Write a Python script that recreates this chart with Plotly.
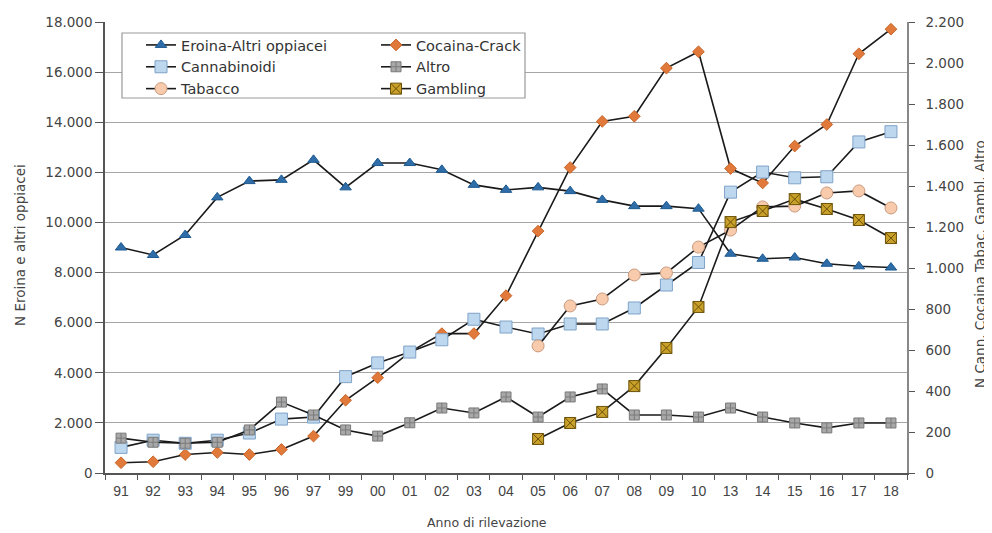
import plotly.graph_objects as go

years = ["91","92","93","94","95","96","97","99","00","01","02","03","04",
         "05","06","07","08","09","10","13","14","15","16","17","18"]

eroina = [9000, 8700, 9500, 11000, 11650, 11700, 12500, 11400, 12370, 12370, 12100, 11500, 11300,
          11400, 11250, 10900, 10650, 10650, 10550, 8750, 8550, 8600, 8350, 8250, 8200]
cocaina = [50, 55, 90, 100, 90, 115, 180, 355, 465, 590, 680, 680, 865,
           1180, 1490, 1715, 1740, 1975, 2055, 1485, 1415, 1595, 1700, 2045, 2165]
cannabinoidi = [125, 160, 145, 160, 195, 263, 273, 470, 537, 590, 650, 750, 712,
                678, 727, 727, 805, 917, 1027, 1370, 1468, 1440, 1445, 1615, 1665]
altro = [170, 150, 145, 150, 210, 346, 283, 210, 180, 245, 317, 293, 371,
         273, 371, 410, 283, 283, 273, 317, 273, 244, 220, 244, 244]
tabacco_years = ["05","06","07","08","09","10","13","14","15","16","17","18"]
tabacco = [620, 815, 849, 966, 976, 1102, 1185, 1298, 1302, 1366, 1376, 1293]
gambling = [166, 244, 298, 424, 610, 810, 1224, 1278, 1336, 1288, 1234, 1146]

left_ticks = list(range(0, 18001, 2000))
right_ticks = list(range(0, 2201, 200))

# page body has an 8px margin: figure is 984x525 so it fills the 992x533 window
W, H = 984, 525
ML, MR, MT, MB = 97, 85, 14, 60
PW, PH = W - ML - MR, H - MT - MB

def px_x(sx):  # screen x -> paper x
    return (sx - 8 - ML) / PW

def px_y(sy):  # screen y -> paper y
    return (H - MB - (sy - 8)) / PH

LINE = dict(color="#1a1a1a", width=1.6)
SANS = "DejaVu Sans, Verdana, sans-serif"
fig = go.Figure()

fig.add_trace(go.Scatter(x=years, y=eroina, name="Eroina-Altri oppiacei", mode="lines+markers",
                         line=LINE, legend="legend",
                         marker=dict(symbol="triangle-up", size=10, color="#2E6DA8",
                                     line=dict(color="#1F5A90", width=1))))
fig.add_trace(go.Scatter(x=years, y=cocaina, name="Cocaina-Crack", mode="lines+markers",
                         line=LINE, yaxis="y2", legend="legend2",
                         marker=dict(symbol="diamond", size=9, color="#E0793A",
                                     line=dict(color="#C8652A", width=1))))
fig.add_trace(go.Scatter(x=years, y=cannabinoidi, name="Cannabinoidi", mode="lines+markers",
                         line=LINE, yaxis="y2", legend="legend",
                         marker=dict(symbol="square", size=12, color="#BDD7EE",
                                     line=dict(color="#7FA3C8", width=1))))
fig.add_trace(go.Scatter(x=years, y=altro, name="Altro", mode="lines+markers",
                         line=LINE, yaxis="y2", legend="legend2",
                         marker=dict(symbol="square-cross", size=10, color="#A8A8A8",
                                     line=dict(color="#7A7A7A", width=1))))
fig.add_trace(go.Scatter(x=tabacco_years, y=tabacco, name="Tabacco", mode="lines+markers",
                         line=LINE, yaxis="y2", legend="legend",
                         marker=dict(symbol="circle", size=12, color="#F8CBAD",
                                     line=dict(color="#C99A7E", width=1))))
fig.add_trace(go.Scatter(x=tabacco_years, y=gambling, name="Gambling", mode="lines+markers",
                         line=LINE, yaxis="y2", legend="legend2",
                         marker=dict(symbol="square-x", size=11, color="#C9A02A",
                                     line=dict(color="#6B5208", width=1))))

YTICKFONT = dict(family=SANS, size=13.5, color="#444444")
XTICKFONT = dict(family="Liberation Sans Narrow, Liberation Sans, Arial, sans-serif", size=14, color="#444444")
TITLEFONT = dict(family=SANS, size=12.5, color="#444444")
YTITLEFONT = dict(family=SANS, size=13.5, color="#444444")
legfont = dict(family=SANS, size=14.5, color="#333333")

fig.update_layout(
    width=W, height=H,
    margin=dict(l=ML, r=MR, t=MT, b=MB, autoexpand=False),
    paper_bgcolor="white", plot_bgcolor="white",
    separators=",.",
    showlegend=True,
    xaxis=dict(type="category", categoryorder="array", categoryarray=years,
               tickson="boundaries", ticks="outside", ticklen=5, tickcolor="#555555",
               showline=True, linecolor="#555555", linewidth=1.5, mirror=False,
               showgrid=False, tickfont=XTICKFONT, range=[-0.5, len(years) - 0.5],
               ticklabelstandoff=4),
    yaxis=dict(range=[0, 18000], tickvals=left_ticks, tickformat=",d",
               showgrid=True, gridcolor="#A6A6A6", gridwidth=1.3,
               showline=True, linecolor="#555555", linewidth=1.5,
               ticks="outside", ticklen=8, tickcolor="#555555",
               tickfont=YTICKFONT, zeroline=False, automargin=False),
    yaxis2=dict(range=[0, 2200], tickvals=right_ticks, tickformat=",d",
                overlaying="y", side="right", showgrid=False,
                showline=True, linecolor="#888888", linewidth=1.5,
                ticks="outside", ticklen=6, tickcolor="#555555",
                tickfont=YTICKFONT, zeroline=False, automargin=False,
                ticklabelstandoff=8),
    legend=dict(x=px_x(141), y=px_y(29), xanchor="left", yanchor="top", bgcolor="rgba(0,0,0,0)",
                font=legfont, tracegroupgap=0, itemwidth=30),
    legend2=dict(x=px_x(376), y=px_y(29), xanchor="left", yanchor="top", bgcolor="rgba(0,0,0,0)",
                 font=legfont, tracegroupgap=0, itemwidth=30),
    shapes=[dict(type="rect", xref="paper", yref="paper",
                 x0=px_x(122), x1=px_x(525), y0=px_y(98), y1=px_y(33),
                 line=dict(color="#999999", width=1.2), fillcolor="white", layer="above")],
    annotations=[
        dict(text="Anno di rilevazione", xref="paper", yref="paper",
             x=px_x(487), y=px_y(522), xanchor="center", yanchor="middle",
             showarrow=False, font=TITLEFONT),
        dict(text="N Eroina e altri oppiacei", xref="paper", yref="paper",
             x=px_x(20), y=px_y(245), xanchor="center", yanchor="middle", textangle=-90,
             showarrow=False, font=YTITLEFONT),
        dict(text="N Cann. Cocaina Tabac. Gambl. Altro", xref="paper", yref="paper",
             x=px_x(980), y=px_y(264), xanchor="center", yanchor="middle", textangle=-90,
             showarrow=False, font=YTITLEFONT),
    ],
)

fig.write_html("out.html")
